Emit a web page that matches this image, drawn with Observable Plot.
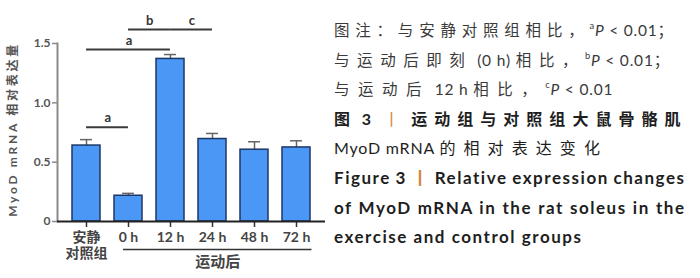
<!DOCTYPE html>
<html><head><meta charset="utf-8">
<script src="https://cdn.jsdelivr.net/npm/d3@7"></script>
<script src="https://cdn.jsdelivr.net/npm/@observablehq/plot@0.6"></script>
<style>
body{margin:0;background:#fff;}
#wrap{position:relative;width:700px;height:278px;overflow:hidden;background:#fff;}
#chart{position:absolute;left:0;top:0;}
.cap{position:absolute;left:334px;white-space:nowrap;font-family:Lato,"Noto Sans CJK SC",sans-serif;line-height:20px;height:20px;}
.cap .fit{display:inline-block;white-space:nowrap;}
.note{font-size:15.5px;color:#3a3a3a;}
.note .fit,.title .fit{letter-spacing:0.8px;}
.title{font-size:16px;color:#1e1e1e;}
.fig{font-size:17px;color:#1e1e1e;}
.bold{font-weight:bold;}
.orange{color:#d4883a;}
.title .orange{margin-left:7px;font-weight:normal;}
sup{font-size:0.6em;vertical-align:0.75em;line-height:0;}
</style></head><body><div id="wrap"><div id="chart"></div></div>
<script>
// ---- data ----
const categories = ["安静对照组", "0 h", "12 h", "24 h", "48 h", "72 h"];
const tickLabels = ["安静\n对照组", "0 h", "12 h", "24 h", "48 h", "72 h"];
const means = [0.64, 0.217, 1.37, 0.695, 0.605, 0.624];
const errors = [0.05, 0.02, 0.037, 0.047, 0.067, 0.056];
const yTicks = [0, 0.5, 1.0, 1.5];
const yLabel = "MyoD mRNA 相对表达量";
const bracketFrom = ["安静对照组", "安静对照组", "0 h", "12 h"];
const bracketTo = ["0 h", "12 h", "12 h", "24 h"];
const bracketY = [0.795, 1.449, 1.618, 1.618];
const bracketText = ["a", "a", "b", "c"];
const groupLabel = "运动后";
const groupFrom = "0 h";
const groupTo = "72 h";
const captionTexts = [
  '图注：与安静对照组相比，<sup>a</sup><i>P</i> &lt; 0.01；',
  '与运动后即刻 (0 h) 相比，<sup>b</sup><i>P</i> &lt; 0.01；',
  '与运动后 12 h 相比，<sup>c</sup><i>P</i> &lt; 0.01',
  '图 3 <span class="orange">丨</span> 运动组与对照组大鼠骨骼肌',
  'MyoD mRNA 的相对表达变化',
  'Figure 3 <span class="orange">丨</span> Relative expression changes',
  'of MyoD mRNA in the rat soleus in the',
  'exercise and control groups'
];

// ---- table ----
const data = categories.map((c, i) => ({group: c, mean: means[i], err: errors[i]}));
const brackets = bracketFrom.map((f, i) => ({from: f, to: bracketTo[i], y: bracketY[i], text: bracketText[i]}));

// ---- layout ----
const W = 330, H = 278, mL = 57, mR = 5, mT = 43, mB = 57;
const pi = 0.34, po = 0.316;
const step = (W - mL - mR) / (categories.length - pi + 2 * po);
const bw = step * (1 - pi);
const font = 'Lato, "Noto Sans CJK SC", sans-serif';

const idx = (c) => categories.indexOf(c);

const marks = [
  Plot.frame({anchor: "left", stroke: "#8a8a8a", strokeWidth: 2}),
  Plot.axisY({ticks: yTicks, tickFormat: d => d === 0 ? "0" : d.toFixed(1), tickSize: 5, tickPadding: 2,
    stroke: "#8a8a8a", strokeWidth: 1.5, fill: "#555", fontSize: 12, fontWeight: "bold", label: null}),
  Plot.axisX({tickFormat: d => tickLabels[idx(d)], tickSize: 6, tickPadding: 3, stroke: "#333", strokeWidth: 1.5,
    fill: "#444", fontSize: 14, fontWeight: "bold", lineHeight: 1.15, label: null}),
  Plot.ruleX(data, {x: "group", y1: "mean", y2: d => d.mean + d.err, stroke: "#666", strokeWidth: 1.5}),
  Plot.tickY(data, {x: "group", y: d => d.mean + d.err, insetLeft: bw / 2 - 6, insetRight: bw / 2 - 6, stroke: "#666", strokeWidth: 1.5}),
  Plot.barY(data, {x: "group", y: "mean", fill: "#4a97f5", stroke: "#1c3766", strokeWidth: 1.5}),
  Plot.ruleY([0], {stroke: "#222", strokeWidth: 2}),
  Plot.ruleY(brackets, {x1: "from", x2: "to", y: "y", insetLeft: bw / 2, insetRight: bw / 2, stroke: "#3a3a3a", strokeWidth: 2}),
  ...brackets.map(b => Plot.text([b], {x: "from", y: "y", text: "text", dx: (idx(b.to) - idx(b.from)) * step / 2, dy: -9,
    fontSize: 13, fontWeight: "bold", fill: "#333"})),
  Plot.ruleY([{from: groupFrom, to: groupTo}], {x1: "from", x2: "to", y: () => 0, dy: 28, insetLeft: 9, insetRight: -1.5, stroke: "#333", strokeWidth: 1.5}),
  Plot.text([groupLabel], {x: () => groupFrom, y: () => 0, text: d => d, dx: (idx(groupTo) - idx(groupFrom)) * step / 2 + 4, dy: 41,
    fontSize: 15, fontWeight: "bold", fill: "#444"}),
  Plot.text([yLabel], {frameAnchor: "left", textAnchor: "middle", lineAnchor: "middle", text: d => d, rotate: -90, dx: -44, dy: -3,
    fontSize: 12, fontWeight: "bold", fill: "#555"})
];

const plot = Plot.plot({
  width: W, height: H, marginLeft: mL, marginRight: mR, marginTop: mT, marginBottom: mB,
  style: {fontFamily: font, background: "transparent", overflow: "visible"},
  x: {domain: categories, paddingInner: pi, paddingOuter: po, label: null},
  y: {domain: [0, 1.5], label: null},
  marks
});
document.getElementById("chart").appendChild(plot);
const yLabelEl = d3.select(plot).selectAll("text").filter(function() { return this.textContent === yLabel; }).node();

// ---- caption ----
const capClass = ["note", "note", "note", "title bold", "title", "fig bold", "fig bold", "fig bold"];
const capTarget = [342, 339, 275, 350, 270, 350, 350, 247];
const CJK = /([\u2E80-\u9FFF\u3000-\u303F\uFF00-\uFFEF]+)/;
function wrapCJK(node) {
  Array.from(node.childNodes).forEach(ch => {
    if (ch.nodeType === 3) {
      const parts = ch.textContent.split(CJK);
      if (parts.length === 1) return;
      const frag = document.createDocumentFragment();
      parts.forEach(p => {
        if (!p) return;
        if (CJK.test(p)) { const s = document.createElement("span"); s.className = "cjk"; s.textContent = p; frag.appendChild(s); }
        else frag.appendChild(document.createTextNode(p));
      });
      ch.replaceWith(frag);
    } else if (ch.nodeType === 1) wrapCJK(ch);
  });
}
const wrap = document.getElementById("wrap");
const spans = captionTexts.map((t, i) => {
  const div = document.createElement("div");
  div.className = "cap " + capClass[i];
  div.style.top = (30 + 29.6 * i - 10) + "px";
  const span = document.createElement("span");
  span.className = "fit";
  span.innerHTML = t;
  wrapCJK(span);
  div.appendChild(span);
  wrap.appendChild(div);
  return span;
});
function fit() {
  for (let i = 0; i < 5; i++) {
    const s = spans[i];
    const cj = Array.from(s.querySelectorAll(".cjk"));
    cj.forEach(c => c.style.letterSpacing = "0px");
    const w = s.getBoundingClientRect().width;
    const n = cj.reduce((a, c) => a + c.textContent.length, 0);
    const ls = (capTarget[i] - w) / Math.max(1, n - 0.5);
    cj.forEach(c => c.style.letterSpacing = ls + "px");
  }
  const last = spans[7];
  last.style.letterSpacing = "0px";
  const wl = last.getBoundingClientRect().width;
  const ls = (capTarget[7] - wl) / (last.textContent.length - 1);
  last.style.letterSpacing = ls + "px";
  for (let i = 5; i < 7; i++) {
    const s = spans[i];
    s.style.letterSpacing = ls + "px";
    s.style.wordSpacing = "0px";
    const w = s.getBoundingClientRect().width;
    const nw = (s.textContent.match(/ /g) || []).length;
    s.style.wordSpacing = ((capTarget[i] - w + ls) / nw) + "px";
  }
  if (yLabelEl) {
    yLabelEl.style.letterSpacing = "0px";
    const L = yLabelEl.getComputedTextLength();
    yLabelEl.style.letterSpacing = Math.max(0, (172 - L) / (yLabel.length - 1)) + "px";
  }
}
fit();
if (document.fonts && document.fonts.ready) document.fonts.ready.then(fit);
</script>
</body></html>
